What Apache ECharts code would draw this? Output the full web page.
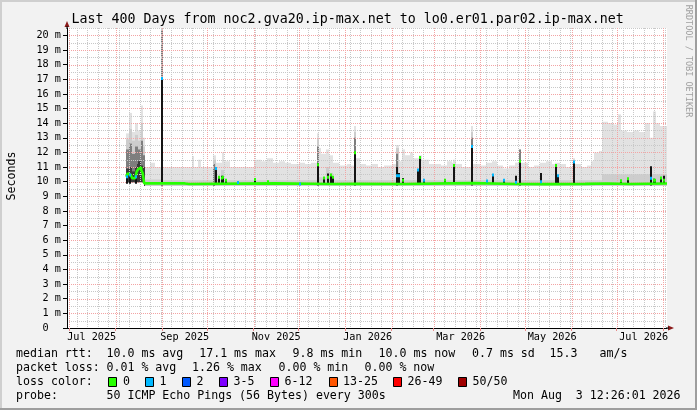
<!DOCTYPE html>
<html>
<head>
<meta charset="utf-8">
<script src="https://cdn.jsdelivr.net/npm/echarts@6/dist/echarts.min.js"></script>
<style>
html,body{margin:0;padding:0;background:#f2f2f2;}
#chart{width:697px;height:410px;}
</style>
</head>
<body>
<div id="chart"></div>
<script>
// ---------------- data ----------------
const titleText = 'Last 400 Days from noc2.gva20.ip-max.net to lo0.er01.par02.ip-max.net';
const rangeStart = '2025-06-29 12:26';
const rangeEnd = '2026-08-03 12:26';
const yMax = 20.5;

const xLabels = ['Jul 2025', 'Sep 2025', 'Nov 2025', 'Jan 2026', 'Mar 2026', 'May 2026', 'Jul 2026'];
const xLabelDates = ['2025-07-16', '2025-09-16', '2025-11-16', '2026-01-16', '2026-03-19', '2026-05-19', '2026-07-19'];
const monthStarts = ['2025-07-01', '2025-08-01', '2025-09-01', '2025-10-01', '2025-11-01', '2025-12-01',
  '2026-01-01', '2026-02-01', '2026-03-01', '2026-04-01', '2026-05-01', '2026-06-01', '2026-07-01', '2026-08-01'];
const yTickValues = [0, 1, 2, 3, 4, 5, 6, 7, 8, 9, 10, 11, 12, 13, 14, 15, 16, 17, 18, 19, 20];
const yMinorValues = [0.5, 1.5, 2.5, 3.5, 4.5, 5.5, 6.5, 7.5, 8.5, 9.5, 10.5, 11.5, 12.5, 13.5, 14.5, 15.5, 16.5, 17.5, 18.5, 19.5, 20.5];

// smoke envelope (ms): top of light smoke, each value holds until the next date
const smokeMaxData = [
  ['2025-08-08', 13.3], ['2025-08-10', 14.7], ['2025-08-12', 13.4], ['2025-08-14', 14.0], ['2025-08-16', 13.5],
  ['2025-08-18', 15.2], ['2025-08-19', 13.0], ['2025-08-20', 11.0], ['2025-08-24', 11.3], ['2025-08-27', 11.0],
  ['2025-08-31', 20.5], ['2025-09-01', 11.0], ['2025-09-21', 11.75], ['2025-09-22', 11.0], ['2025-09-25', 11.5],
  ['2025-09-27', 11.0], ['2025-10-05', 11.8], ['2025-10-07', 11.3], ['2025-10-11', 12.0], ['2025-10-12', 11.4],
  ['2025-10-16', 11.0], ['2025-11-01', 11.5], ['2025-11-06', 11.4], ['2025-11-10', 11.6], ['2025-11-14', 11.3],
  ['2025-11-18', 11.4], ['2025-11-22', 11.3], ['2025-11-26', 11.2], ['2025-12-01', 11.3], ['2025-12-05', 11.2],
  ['2025-12-09', 11.3], ['2025-12-13', 13.3], ['2025-12-14', 12.3], ['2025-12-16', 11.9], ['2025-12-19', 12.2],
  ['2025-12-21', 11.8], ['2025-12-24', 11.3], ['2025-12-28', 11.1], ['2026-01-02', 11.2], ['2026-01-05', 11.1],
  ['2026-01-07', 13.8], ['2026-01-08', 11.6], ['2026-01-11', 11.2], ['2026-01-15', 11.1], ['2026-01-19', 11.2],
  ['2026-01-23', 11.0], ['2026-01-27', 11.1], ['2026-02-01', 11.2], ['2026-02-04', 12.5], ['2026-02-06', 11.4],
  ['2026-02-08', 12.2], ['2026-02-10', 11.8], ['2026-02-13', 12.0], ['2026-02-15', 11.6], ['2026-02-19', 11.8],
  ['2026-02-21', 11.5], ['2026-02-26', 11.2], ['2026-03-06', 11.1], ['2026-03-10', 11.4], ['2026-03-13', 11.3],
  ['2026-03-14', 11.5], ['2026-03-16', 11.2], ['2026-03-20', 11.0], ['2026-03-26', 13.8], ['2026-03-27', 11.2],
  ['2026-04-01', 11.1], ['2026-04-05', 11.3], ['2026-04-09', 11.4], ['2026-04-12', 11.1], ['2026-04-16', 10.9],
  ['2026-04-20', 11.1], ['2026-04-24', 11.3], ['2026-04-27', 12.2], ['2026-04-28', 11.3], ['2026-05-03', 11.0],
  ['2026-05-07', 11.1], ['2026-05-11', 11.3], ['2026-05-15', 11.4], ['2026-05-19', 11.2], ['2026-05-21', 11.3],
  ['2026-05-24', 11.2], ['2026-05-28', 11.0], ['2026-06-02', 11.6], ['2026-06-03', 11.2], ['2026-06-07', 11.0],
  ['2026-06-11', 11.1], ['2026-06-14', 11.4], ['2026-06-16', 12.0], ['2026-06-19', 12.1], ['2026-06-21', 14.1],
  ['2026-06-25', 14.0], ['2026-06-29', 13.9], ['2026-07-02', 14.6], ['2026-07-04', 13.5], ['2026-07-08', 13.4],
  ['2026-07-12', 13.5], ['2026-07-16', 13.4], ['2026-07-20', 14.0], ['2026-07-23', 13.0], ['2026-07-25', 14.8],
  ['2026-07-27', 14.0], ['2026-07-30', 13.8], ['2026-08-03 12:26', 13.8]
];
// denser smoke band
const smokeMidData = [
  ['2025-08-08', 12.9], ['2025-08-10', 13.6], ['2025-08-12', 12.8], ['2025-08-14', 13.2], ['2025-08-16', 12.8],
  ['2025-08-18', 14.0], ['2025-08-19', 12.4], ['2025-08-20', 10.15], ['2025-08-31', 20.5], ['2025-09-01', 10.1],
  ['2025-10-05', 11.5], ['2025-10-07', 10.1], ['2025-10-10', 10.8], ['2025-10-12', 10.1], ['2025-12-13', 12.9],
  ['2025-12-14', 10.3], ['2025-12-19', 11.0], ['2025-12-21', 10.6], ['2025-12-24', 10.1], ['2026-01-07', 13.4],
  ['2026-01-08', 10.1], ['2026-02-04', 12.3], ['2026-02-06', 10.1], ['2026-02-19', 11.5], ['2026-02-20', 10.1],
  ['2026-03-26', 13.4], ['2026-03-27', 10.1], ['2026-04-27', 12.0], ['2026-04-28', 10.1], ['2026-06-02', 11.5],
  ['2026-06-03', 10.1], ['2026-06-21', 10.5], ['2026-07-23', 11.0], ['2026-07-24', 10.5], ['2026-08-03 12:26', 10.5]
];
// dark smoke
const smokeDarkData = [
  ['2025-08-08', 12.2], ['2025-08-10', 12.6], ['2025-08-12', 11.9], ['2025-08-14', 12.4], ['2025-08-16', 12.2],
  ['2025-08-18', 12.8], ['2025-08-19', 11.8], ['2025-08-20', 0], ['2025-08-31', 20.3], ['2025-09-01', 0],
  ['2025-10-05', 11.2], ['2025-10-06', 0], ['2025-12-13', 12.4], ['2025-12-14', 0], ['2026-01-07', 13.0],
  ['2026-01-08', 0], ['2026-02-04', 11.9], ['2026-02-05', 0], ['2026-03-26', 13.0], ['2026-03-27', 0],
  ['2026-04-27', 12.2], ['2026-04-28', 0], ['2026-07-23', 10.9], ['2026-07-24', 0], ['2026-08-03 12:26', 0]
];
// darkest smoke core
const smokeCoreData = [
  ['2025-08-08', 10.9], ['2025-08-10', 11.0], ['2025-08-12', 10.7], ['2025-08-14', 11.0], ['2025-08-15', 11.2],
  ['2025-08-16', 11.4], ['2025-08-18', 11.1], ['2025-08-19', 11.0], ['2025-08-20', 0], ['2026-08-03 12:26', 0]
];
// lowest ping (bottom of smoke)
const smokeMinData = [['2025-08-08', 9.95], ['2025-08-20', 9.7], ['2026-08-03 12:26', 9.7]];

// median rtt (ms)
const medianData = [
  ['2025-08-08', 10.34], ['2025-08-09', 10.57], ['2025-08-10', 10.46], ['2025-08-11', 10.34], ['2025-08-12', 10.23],
  ['2025-08-14', 10.34], ['2025-08-15', 10.69], ['2025-08-16', 10.85], ['2025-08-17', 10.98], ['2025-08-18', 10.8],
  ['2025-08-19', 10.57], ['2025-08-20', 9.88], ['2025-09-16', 9.84], ['2025-09-19', 9.88], ['2025-11-15', 9.86],
  ['2025-12-10', 9.84], ['2025-12-24', 9.86], ['2026-01-08', 9.84], ['2026-02-10', 9.88], ['2026-03-12', 9.9],
  ['2026-03-27', 9.84], ['2026-04-25', 9.83], ['2026-05-15', 9.85], ['2026-06-10', 9.87], ['2026-06-25', 9.84],
  ['2026-07-10', 9.87], ['2026-08-03 12:26', 9.87]
];
// spike columns: [date, top of dark core, median, loss bucket]
const spikeBase = 9.86;
const spikeData = [
  ['2025-08-08', 10.34, 10.34, 1], ['2025-08-10', 10.46, 10.46, 1], ['2025-08-14', 10.34, 10.34, 1],
  ['2025-08-31', 17.1, 17.05, 1],
  ['2025-10-06', 11.0, 10.9, 1], ['2025-10-08', 10.3, 10.3, 0], ['2025-10-10', 10.4, 10.25, 0],
  ['2025-10-11', 10.35, 10.3, 0], ['2025-10-13', 10.15, 10.1, 0], ['2025-10-21', 9.95, 9.95, 1],
  ['2025-11-01', 10.2, 10.15, 0], ['2025-11-10', 10.05, 10.0, 0], ['2025-12-01', 9.86, 9.84, 1],
  ['2025-12-13', 11.25, 11.15, 0], ['2025-12-17', 10.3, 10.25, 0], ['2025-12-20', 10.55, 10.3, 0],
  ['2025-12-22', 10.5, 10.45, 0], ['2025-12-23', 10.3, 10.3, 0],
  ['2026-01-07', 12.05, 11.98, 0], ['2026-02-04', 11.0, 10.4, 1], ['2026-02-05', 10.6, 10.4, 1],
  ['2026-02-08', 10.25, 10.1, 0], ['2026-02-18', 10.8, 10.8, 1], ['2026-02-19', 11.7, 11.65, 0],
  ['2026-02-22', 10.1, 10.1, 1], ['2026-03-08', 10.1, 10.1, 0], ['2026-03-14', 11.15, 11.1, 0],
  ['2026-03-26', 12.45, 12.4, 1], ['2026-04-05', 10.1, 10.05, 1], ['2026-04-09', 10.5, 10.45, 1],
  ['2026-04-16', 10.1, 10.1, 1], ['2026-04-24', 10.4, 9.96, 1], ['2026-04-27', 11.45, 11.4, 0],
  ['2026-05-11', 10.6, 10.0, 1], ['2026-05-21', 11.15, 11.1, 0], ['2026-05-22', 10.4, 10.4, 1],
  ['2026-06-02', 11.4, 11.35, 1], ['2026-07-03', 10.07, 10.07, 0], ['2026-07-08', 10.25, 10.2, 0],
  ['2026-07-23', 11.05, 10.23, 1], ['2026-07-25', 10.2, 10.1, 0], ['2026-07-26', 10.1, 10.1, 0],
  ['2026-07-30', 10.3, 10.25, 0], ['2026-08-01', 10.4, 10.1, 0]
];

// legend texts
const lossLabels = ['0', '1', '2', '3-5', '6-12', '13-25', '26-49', '50/50'];
const lossColors = ['#26ff00', '#00b8ff', '#0059ff', '#7e00ff', '#ff00ff', '#ff5500', '#ff0000', '#a10000'];
const rttLegend = ['median rtt:', '10.0 ms avg', '17.1 ms max', '9.8 ms min', '10.0 ms now', '0.7 ms sd', '15.3', 'am/s'];
const lossLegend = ['packet loss:', '0.01 % avg', '1.26 % max', '0.00 % min', '0.00 % now'];
const probeLegend = ['probe:', '50 ICMP Echo Pings (56 Bytes) every 300s', 'Mon Aug  3 12:26:01 2026'];

// ---------------- helpers ----------------
const DAY = 86400000;
function parseT(s) {
  const parts = s.split(' ');
  const d = parts[0].split('-').map(Number);
  const tm = (parts[1] || '00:00').split(':').map(Number);
  return new Date(d[0], d[1] - 1, d[2], tm[0], tm[1]).getTime();
}
const conv = arr => arr.map(r => [parseT(r[0])].concat(r.slice(1)));
const tMin = parseT(rangeStart), tMax = parseT(rangeEnd);
const xLabelTs = xLabelDates.map(parseT);
const monthTs = monthStarts.map(parseT);
const weekTs = [];
for (let d = new Date(2025, 6, 6); d.getTime() <= tMax; d.setDate(d.getDate() + 7)) weekTs.push(d.getTime());

const MONO = '"DejaVu Sans Mono", monospace';
const minorGrid = '#c8c8c8';
const majorGrid = '#f3a4a4';

// step columns drawn through the axes' scales (value holds until next date)
function stepColumns(name, raw, color, z) {
  const data = conv(raw);
  return {
    name, type: 'custom', z, silent: true, clip: true, data, encode: { x: 0, y: 1 },
    renderItem: (params, api) => {
      const i = params.dataIndex;
      if (i >= data.length - 1 || !data[i][1]) return null;
      const a = api.coord([data[i][0], data[i][1]]);
      const b = api.coord([data[i + 1][0], 0]);
      const x0 = Math.round(a[0]), x1 = Math.round(b[0]);
      return { type: 'rect', shape: { x: x0, y: a[1], width: Math.max(x1 - x0, 2), height: b[1] - a[1] }, style: { fill: color } };
    }
  };
}
function gridSeries(name, values, vertical, color, z) {
  const data = values.map(v => vertical ? [v, 0] : [tMin, v]);
  return {
    name, type: 'custom', z, silent: true, clip: true, data, encode: { x: 0, y: 1 },
    renderItem: (params, api) => {
      if (vertical) {
        const p = api.coord([api.value(0), 0]), q = api.coord([api.value(0), yMax]);
        const x = Math.round(p[0]) + 0.5;
        return { type: 'line', shape: { x1: x, y1: q[1], x2: x, y2: p[1] }, style: { stroke: color, lineWidth: 1, lineDash: [1, 1] } };
      }
      const p = api.coord([tMin, api.value(1)]), q = api.coord([tMax, api.value(1)]);
      const y = Math.round(p[1]) + 0.5;
      return { type: 'line', shape: { x1: p[0], y1: y, x2: q[0] + 1, y2: y }, style: { stroke: color, lineWidth: 1, lineDash: [1, 1] } };
    }
  };
}

// ---------------- graphics (title, legend, frame) ----------------
const graphics = [
  { type: 'rect', shape: { x: 0, y: 0, width: 697, height: 2 }, style: { fill: '#cfcfcf' }, silent: true },
  { type: 'rect', shape: { x: 0, y: 0, width: 2, height: 410 }, style: { fill: '#cfcfcf' }, silent: true },
  { type: 'rect', shape: { x: 0, y: 408, width: 697, height: 2 }, style: { fill: '#9e9e9e' }, silent: true },
  { type: 'rect', shape: { x: 695, y: 0, width: 2, height: 410 }, style: { fill: '#9e9e9e' }, silent: true },
  { type: 'text', x: 71.5, y: 19.3, style: { text: titleText, font: '13.3px ' + MONO, fill: '#000', align: 'left', verticalAlign: 'middle' } },
  { type: 'text', x: 12, y: 176, rotation: Math.PI / 2, style: { text: 'Seconds', font: '11.6px ' + MONO, fill: '#000', align: 'center', verticalAlign: 'middle' } },
  { type: 'text', x: 688, y: 61, rotation: -Math.PI / 2, style: { text: 'RRDTOOL / TOBI OETIKER', font: '8.5px ' + MONO, fill: '#a0a0a0', align: 'center', verticalAlign: 'middle' } },
  { type: 'polygon', shape: { points: [[64.5, 27], [67, 21], [69.5, 27]] }, style: { fill: '#8b1a1a' }, z: 100 },
  { type: 'rect', shape: { x: 66.5, y: 26, width: 1, height: 3 }, style: { fill: '#000' }, z: 100 },
  { type: 'polygon', shape: { points: [[668, 325.5], [674, 328], [668, 330.5]] }, style: { fill: '#8b1a1a' }, z: 100 },
  { type: 'rect', shape: { x: 666, y: 327.5, width: 3, height: 1 }, style: { fill: '#000' }, z: 100 }
];
function legendText(x, y, text) {
  graphics.push({ type: 'text', x, y, style: { text, font: '11.6px ' + MONO, fill: '#000', align: 'left', verticalAlign: 'middle' } });
}
const rttX = [16, 106.5, 199.2, 292.5, 378.5, 472, 549.5, 599.5];
rttLegend.forEach((s, i) => legendText(rttX[i], 353.6, s));
const lossX = [16, 106.5, 192, 278.5, 364.5];
lossLegend.forEach((s, i) => legendText(lossX[i], 367.6, s));
legendText(16, 381.6, 'loss color:');
const boxX = [108.5, 145.5, 182.5, 219.5, 270.5, 329.5, 393.5, 458.5];
const boxTextX = [123, 159.5, 196.5, 233.5, 284.5, 343, 407.5, 472.5];
lossLabels.forEach((s, i) => {
  graphics.push({ type: 'rect', shape: { x: boxX[i], y: 377.5, width: 8, height: 9 }, style: { fill: lossColors[i], stroke: '#000', lineWidth: 1 } });
  legendText(boxTextX[i], 381.6, s);
});
const probeX = [16, 106.5, 513];
probeLegend.forEach((s, i) => legendText(probeX[i], 395.6, s));

// ---------------- chart ----------------
const chart = echarts.init(document.getElementById('chart'));
const spikeRows = conv(spikeData);
const option = {
  backgroundColor: '#f2f2f2',
  animation: false,
  textStyle: { fontFamily: MONO },
  grid: { left: 67, top: 28, width: 600, height: 300, show: true, backgroundColor: '#ffffff', borderWidth: 0 },
  xAxis: {
    type: 'value', min: tMin, max: tMax, z: 20,
    axisLine: { show: true, onZero: false, lineStyle: { color: '#000', width: 1 } },
    axisTick: { show: true, customValues: monthTs, length: 3, lineStyle: { color: '#e88a8a' } },
    axisLabel: {
      customValues: xLabelTs, fontFamily: MONO, fontSize: 10.2, color: '#000', margin: 4,
      formatter: v => { const i = xLabelTs.findIndex(t => Math.abs(t - v) < 3600000); return i >= 0 ? xLabels[i] : ''; }
    },
    splitLine: { show: false }
  },
  yAxis: {
    type: 'value', min: 0, max: yMax, interval: 1, z: 20,
    axisLine: { show: true, onZero: false, lineStyle: { color: '#000', width: 1 } },
    axisTick: { show: true, customValues: yTickValues, length: 4, lineStyle: { color: '#000' } },
    axisLabel: {
      customValues: yTickValues, fontFamily: MONO, fontSize: 10.2, color: '#000', margin: 6,
      formatter: v => (Math.abs(v - Math.round(v)) > 1e-6 ? '' : (v === 0 ? '0  ' : v + ' m'))
    },
    splitLine: { show: false }
  },
  graphic: graphics,
  series: [
    stepColumns('smokeMax', smokeMaxData, '#e2e2e2', 1),
    stepColumns('smokeMid', smokeMidData, '#cdcdcd', 2),
    stepColumns('smokeDark', smokeDarkData, '#7e7e7e', 3),
    stepColumns('smokeCore', smokeCoreData, '#3a3a3a', 4),
    stepColumns('smokeMin', smokeMinData, '#ffffff', 5),
    gridSeries('weekGrid', weekTs, true, minorGrid, 7),
    gridSeries('halfGrid', yMinorValues, false, minorGrid, 7),
    gridSeries('monthGrid', monthTs, true, majorGrid, 8),
    gridSeries('msGrid', yTickValues.filter(v => v > 0), false, majorGrid, 8),
    {
      name: 'spikeBars', type: 'custom', z: 9, silent: true, clip: true,
      data: spikeRows, encode: { x: 0, y: 1 },
      renderItem: (params, api) => {
        const t = api.value(0);
        const p0 = api.coord([t, api.value(1)]);
        const p1 = api.coord([t + DAY, spikeBase]);
        const x0 = Math.round(p0[0]);
        return { type: 'rect', shape: { x: x0, y: p0[1], width: Math.max(Math.round(p1[0]) - x0, 2), height: p1[1] - p0[1] }, style: { fill: '#141414' } };
      }
    },
    {
      name: 'median rtt', type: 'line', step: 'end', z: 10, silent: true, data: conv(medianData),
      symbol: 'none', showSymbol: false, lineStyle: { color: lossColors[0], width: 2.6 }
    },
    {
      name: 'spikeDots', type: 'custom', z: 11, silent: true, clip: true,
      data: spikeRows, encode: { x: 0, y: 2 },
      renderItem: (params, api) => {
        const t = api.value(0);
        const p0 = api.coord([t, api.value(2)]);
        const p1 = api.coord([t + DAY, api.value(2)]);
        const x0 = Math.round(p0[0]);
        return { type: 'rect', shape: { x: x0, y: p0[1] - 1.5, width: Math.max(Math.round(p1[0]) - x0, 2), height: 3 }, style: { fill: lossColors[api.value(3)] } };
      }
    }
  ]
};
chart.setOption(option);
</script>
</body>
</html>
